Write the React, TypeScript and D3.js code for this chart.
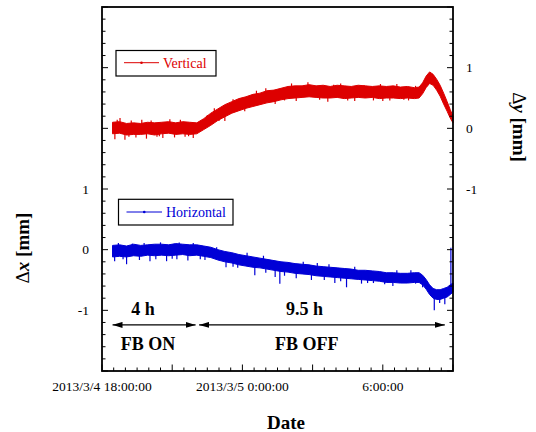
import React, { useEffect, useRef } from 'react';
import * as d3 from 'd3';

// hours after 2013/3/4 18:00:00
const hours = [0.45, 0.75, 1.05, 1.35, 1.65, 1.95, 2.25, 2.55, 2.85, 3.15, 3.45, 3.75, 4.05, 4.35, 4.65, 4.95, 5.25, 5.55, 5.85, 6.15, 6.45, 6.75, 7.05, 7.35, 7.65, 7.95, 8.25, 8.55, 8.85, 9.15, 9.45, 9.75, 10.05, 10.35, 10.65, 10.95, 11.25, 11.55, 11.85, 12.15, 12.45, 12.75, 13.05, 13.35, 13.55, 13.7, 13.85, 14.0, 14.15, 14.3, 14.45, 14.6, 14.75, 14.88, 15.0];

// Vertical (right axis, mm): upper / lower edge of the noise band
const vertHigh = [0.10, 0.11, 0.08, 0.09, 0.08, 0.10, 0.09, 0.10, 0.11, 0.09, 0.11, 0.10, 0.09, 0.16, 0.25, 0.32, 0.39, 0.44, 0.49, 0.52, 0.56, 0.58, 0.62, 0.63, 0.66, 0.69, 0.70, 0.70, 0.72, 0.70, 0.71, 0.69, 0.71, 0.70, 0.69, 0.71, 0.70, 0.69, 0.70, 0.69, 0.70, 0.68, 0.69, 0.67, 0.68, 0.75, 0.86, 0.93, 0.89, 0.81, 0.71, 0.58, 0.44, 0.31, 0.20];
const vertLow = [-0.09, -0.08, -0.11, -0.10, -0.10, -0.09, -0.11, -0.09, -0.08, -0.10, -0.09, -0.10, -0.09, -0.02, 0.05, 0.13, 0.19, 0.25, 0.29, 0.33, 0.36, 0.39, 0.42, 0.44, 0.47, 0.49, 0.50, 0.51, 0.52, 0.51, 0.50, 0.50, 0.51, 0.49, 0.50, 0.51, 0.50, 0.51, 0.49, 0.50, 0.50, 0.49, 0.50, 0.49, 0.50, 0.57, 0.67, 0.74, 0.71, 0.63, 0.53, 0.40, 0.28, 0.17, 0.09];

// Horizontal (left axis, mm)
const horzHigh = [0.07, 0.08, 0.06, 0.09, 0.07, 0.08, 0.09, 0.09, 0.08, 0.10, 0.09, 0.08, 0.08, 0.06, 0.04, 0.00, -0.03, -0.05, -0.08, -0.10, -0.12, -0.14, -0.16, -0.18, -0.20, -0.21, -0.23, -0.24, -0.25, -0.27, -0.28, -0.29, -0.30, -0.31, -0.32, -0.34, -0.34, -0.35, -0.36, -0.38, -0.38, -0.39, -0.39, -0.38, -0.38, -0.42, -0.49, -0.58, -0.64, -0.66, -0.66, -0.64, -0.62, -0.58, -0.55];
const horzLow = [-0.12, -0.11, -0.12, -0.10, -0.11, -0.09, -0.10, -0.09, -0.10, -0.09, -0.08, -0.10, -0.09, -0.11, -0.13, -0.17, -0.20, -0.22, -0.25, -0.27, -0.29, -0.30, -0.32, -0.34, -0.36, -0.37, -0.39, -0.40, -0.41, -0.43, -0.44, -0.45, -0.46, -0.47, -0.48, -0.49, -0.50, -0.51, -0.52, -0.54, -0.54, -0.55, -0.55, -0.54, -0.54, -0.58, -0.65, -0.74, -0.80, -0.82, -0.82, -0.80, -0.78, -0.74, -0.70];

// isolated excursions outside the band: [hour, value]
const vertSpikes = [[0.55, -0.18], [0.65, 0.14], [0.77, 0.17], [0.98, -0.19], [1.15, -0.14], [1.25, 0.13], [1.45, -0.15], [1.7, 0.14], [1.9, -0.17], [2.1, 0.13], [2.35, -0.14], [2.45, -0.13], [2.6, -0.16], [2.9, 0.15], [3.1, -0.15], [3.35, 0.14], [3.55, -0.14], [3.7, -0.13], [3.9, -0.16], [4.5, 0.22], [4.8, 0.33], [5.0, 0.12], [5.25, 0.12], [5.6, 0.48], [6.1, 0.28], [6.3, 0.35], [6.6, 0.62], [7.0, 0.66], [7.4, 0.4], [7.8, 0.46], [8.1, 0.74], [8.3, 0.45], [8.8, 0.76], [9.3, 0.47], [9.65, 0.44], [9.9, 0.72], [10.2, 0.74], [10.5, 0.46], [10.8, 0.45], [11.2, 0.71], [11.6, 0.46], [11.9, 0.73], [12.0, 0.45], [12.3, 0.46], [12.6, 0.73], [12.9, 0.47], [13.1, 0.46], [13.4, 0.7]];
const horzSpikes = [[0.54, -0.19], [0.7, 0.11], [0.9, -0.16], [1.05, -0.24], [1.3, 0.1], [1.6, -0.17], [1.8, 0.11], [2.05, -0.19], [2.3, -0.16], [2.5, 0.12], [2.76, -0.19], [3.0, -0.15], [3.2, -0.16], [3.3, 0.12], [3.67, -0.18], [3.9, 0.11], [4.2, -0.16], [4.4, -0.17], [4.9, 0.04], [5.3, -0.29], [5.6, -0.28], [5.8, -0.3], [6.2, -0.05], [6.53, -0.42], [6.9, -0.1], [7.0, -0.38], [7.4, -0.45], [7.6, -0.56], [7.8, -0.43], [8.3, -0.47], [8.6, -0.2], [8.95, -0.5], [9.2, -0.22], [9.5, -0.5], [9.7, -0.24], [9.95, -0.55], [10.2, -0.52], [10.45, -0.62], [10.8, -0.28], [11.09, -0.56], [11.35, -0.55], [11.6, -0.55], [12.08, -0.57], [12.43, -0.6], [12.6, -0.34], [12.94, -0.55], [13.2, -0.34], [13.4, -0.56], [13.7, -0.62], [14.2, -1.0], [14.43, -0.88], [14.65, -0.9], [14.91, 0.03]];

const xLabelHours = [0, 6, 12];
const xLabels = ['2013/3/4 18:00:00', '2013/3/5 0:00:00', '6:00:00'];
const leftLabels = [1, 0, -1];
const rightLabels = [1, 0, -1];

// feedback periods
const spanStart = [0.45, 4.15];
const spanEnd = [4.0, 14.65];
const spanLength = ['4 h', '9.5 h'];
const spanLengthHour = [1.75, 8.65];
const spanMode = ['FB ON', 'FB OFF'];
const spanModeHour = [1.97, 8.75];

const RED = '#dd0000';
const BLUE = '#0000d6';
const FONT = '"Liberation Serif", "Times New Roman", serif';

const t0 = new Date(2013, 2, 4, 18, 0, 0);
const toDate = (h) => new Date(t0.getTime() + h * 3600000);

const App = () => {
  const svgRef = useRef(null);

  useEffect(() => {
    const svg = d3.select(svgRef.current);
    svg.selectAll('*').remove();

    const left = 102, right = 453, top = 7, bottom = 371;

    const x = d3.scaleTime().domain([t0, toDate(15)]).range([left, right]);
    const yL = d3.scaleLinear().domain([-2, 4]).range([bottom, top]);
    const yR = d3.scaleLinear().domain([-4, 2]).range([bottom, top]);

    // data bands
    const drawSeries = (high, low, spikes, y, color) => {
      const rows = hours.map((h, i) => ({ h, hi: high[i], lo: low[i] }));
      const area = d3.area()
        .x((d) => x(toDate(d.h)))
        .y0((d) => y(d.lo))
        .y1((d) => y(d.hi));
      svg.append('path')
        .attr('d', area(rows))
        .attr('fill', color)
        .attr('stroke', color)
        .attr('stroke-width', 1);
      spikes.forEach(([h, v]) => {
        const near = d3.least(rows, (d) => Math.abs(d.h - h));
        const mid = (near.hi + near.lo) / 2;
        svg.append('line')
          .attr('x1', x(toDate(h)))
          .attr('x2', x(toDate(h)))
          .attr('y1', y(mid))
          .attr('y2', y(v))
          .attr('stroke', color)
          .attr('stroke-width', 1.2);
      });
    };
    drawSeries(vertHigh, vertLow, vertSpikes, yR, RED);
    drawSeries(horzHigh, horzLow, horzSpikes, yL, BLUE);

    // ticks (inward)
    const g = svg.append('g').attr('stroke', '#000').attr('stroke-width', 1);
    yL.ticks(30).forEach((v) => {
      const major = Math.abs(v - Math.round(v)) < 1e-6;
      g.append('line').attr('x1', left).attr('x2', left + (major ? 6 : 3.5)).attr('y1', yL(v)).attr('y2', yL(v));
    });
    yR.ticks(30).forEach((v) => {
      const major = Math.abs(v - Math.round(v)) < 1e-6;
      g.append('line').attr('x1', right).attr('x2', right - (major ? 6 : 3.5)).attr('y1', yR(v)).attr('y2', yR(v));
    });
    const majorX = x.ticks(d3.timeHour.every(3)).map((d) => +d);
    x.ticks(d3.timeMinute.every(30)).forEach((d) => {
      const major = majorX.includes(+d);
      g.append('line').attr('x1', x(d)).attr('x2', x(d)).attr('y1', bottom).attr('y2', bottom - (major ? 6.5 : 3.5));
    });

    // frame
    svg.append('rect')
      .attr('x', left).attr('y', top)
      .attr('width', right - left).attr('height', bottom - top)
      .attr('fill', 'none').attr('stroke', '#000').attr('stroke-width', 1.8);

    // tick labels
    const labels = svg.append('g').attr('font-family', FONT).attr('font-size', 13.5).attr('fill', '#000');
    leftLabels.forEach((v) => {
      labels.append('text').attr('x', 89).attr('y', yL(v)).attr('dy', '0.35em').attr('text-anchor', 'end').text(v);
    });
    rightLabels.forEach((v) => {
      labels.append('text').attr('x', 466).attr('y', yR(v)).attr('dy', '0.35em').attr('text-anchor', 'start').text(v);
    });
    xLabelHours.forEach((h, i) => {
      labels.append('text').attr('x', x(toDate(h))).attr('y', 391).attr('text-anchor', 'middle').text(xLabels[i]);
    });

    // axis titles
    const yTitle = (tx, ty, rot, sym) => {
      const t = svg.append('text')
        .attr('transform', `translate(${tx},${ty}) rotate(${rot})`)
        .attr('text-anchor', 'middle')
        .attr('font-family', FONT)
        .attr('font-size', 19)
        .attr('font-weight', 'bold');
      t.append('tspan').attr('font-weight', 'normal').text('\u0394');
      t.append('tspan').attr('font-style', 'italic').text(sym);
      t.append('tspan').text(' [mm]');
    };
    yTitle(29, 248, -90, 'x');
    yTitle(513, 127, 90, 'y');
    svg.append('text')
      .attr('x', 286).attr('y', 429)
      .attr('text-anchor', 'middle')
      .attr('font-family', FONT).attr('font-size', 19).attr('font-weight', 'bold')
      .text('Date');

    // legends
    const legend = (bx, by, bw, bh, lx0, lx1, ly, tx, ty, label, color) => {
      svg.append('rect').attr('x', bx).attr('y', by).attr('width', bw).attr('height', bh)
        .attr('fill', '#fff').attr('stroke', '#000').attr('stroke-width', 1.2);
      svg.append('line').attr('x1', lx0).attr('x2', lx1).attr('y1', ly).attr('y2', ly)
        .attr('stroke', color).attr('stroke-width', 1);
      svg.append('circle').attr('cx', (lx0 + lx1) / 2).attr('cy', ly).attr('r', 1.3).attr('fill', color);
      svg.append('text').attr('x', tx).attr('y', ty)
        .attr('font-family', FONT).attr('font-size', 14).attr('fill', color).text(label);
    };
    legend(116, 50.5, 100, 25.5, 124, 159, 62.7, 163, 67.5, 'Vertical', RED);
    legend(118.5, 199.3, 114.5, 25.7, 126.5, 162, 212, 166, 217, 'Horizontal', BLUE);

    // period arrows
    const defs = svg.append('defs');
    defs.append('marker')
      .attr('id', 'arrowhead')
      .attr('viewBox', '0 0 10 6')
      .attr('refX', 10).attr('refY', 3)
      .attr('markerWidth', 10).attr('markerHeight', 6)
      .attr('markerUnits', 'userSpaceOnUse')
      .attr('orient', 'auto-start-reverse')
      .append('path').attr('d', 'M0,0 L10,3 L0,6 Z').attr('fill', '#000');

    const arrowY = yL(-1.24);
    spanStart.forEach((s, i) => {
      svg.append('line')
        .attr('x1', x(toDate(s))).attr('x2', x(toDate(spanEnd[i])))
        .attr('y1', arrowY).attr('y2', arrowY)
        .attr('stroke', '#000').attr('stroke-width', 1.2)
        .attr('marker-start', 'url(#arrowhead)')
        .attr('marker-end', 'url(#arrowhead)');
      svg.append('text')
        .attr('x', x(toDate(spanLengthHour[i]))).attr('y', yL(-1.07))
        .attr('text-anchor', 'middle')
        .attr('font-family', FONT).attr('font-size', 18).attr('font-weight', 'bold')
        .text(spanLength[i]);
      svg.append('text')
        .attr('x', x(toDate(spanModeHour[i]))).attr('y', yL(-1.66))
        .attr('text-anchor', 'middle')
        .attr('font-family', FONT).attr('font-size', 18).attr('font-weight', 'bold')
        .text(spanMode[i]);
    });
  }, []);

  return (
    <svg
      ref={svgRef}
      width={536}
      height={432}
      style={{ position: 'absolute', left: 0, top: 0, background: '#fff' }}
    />
  );
};

export default App;
